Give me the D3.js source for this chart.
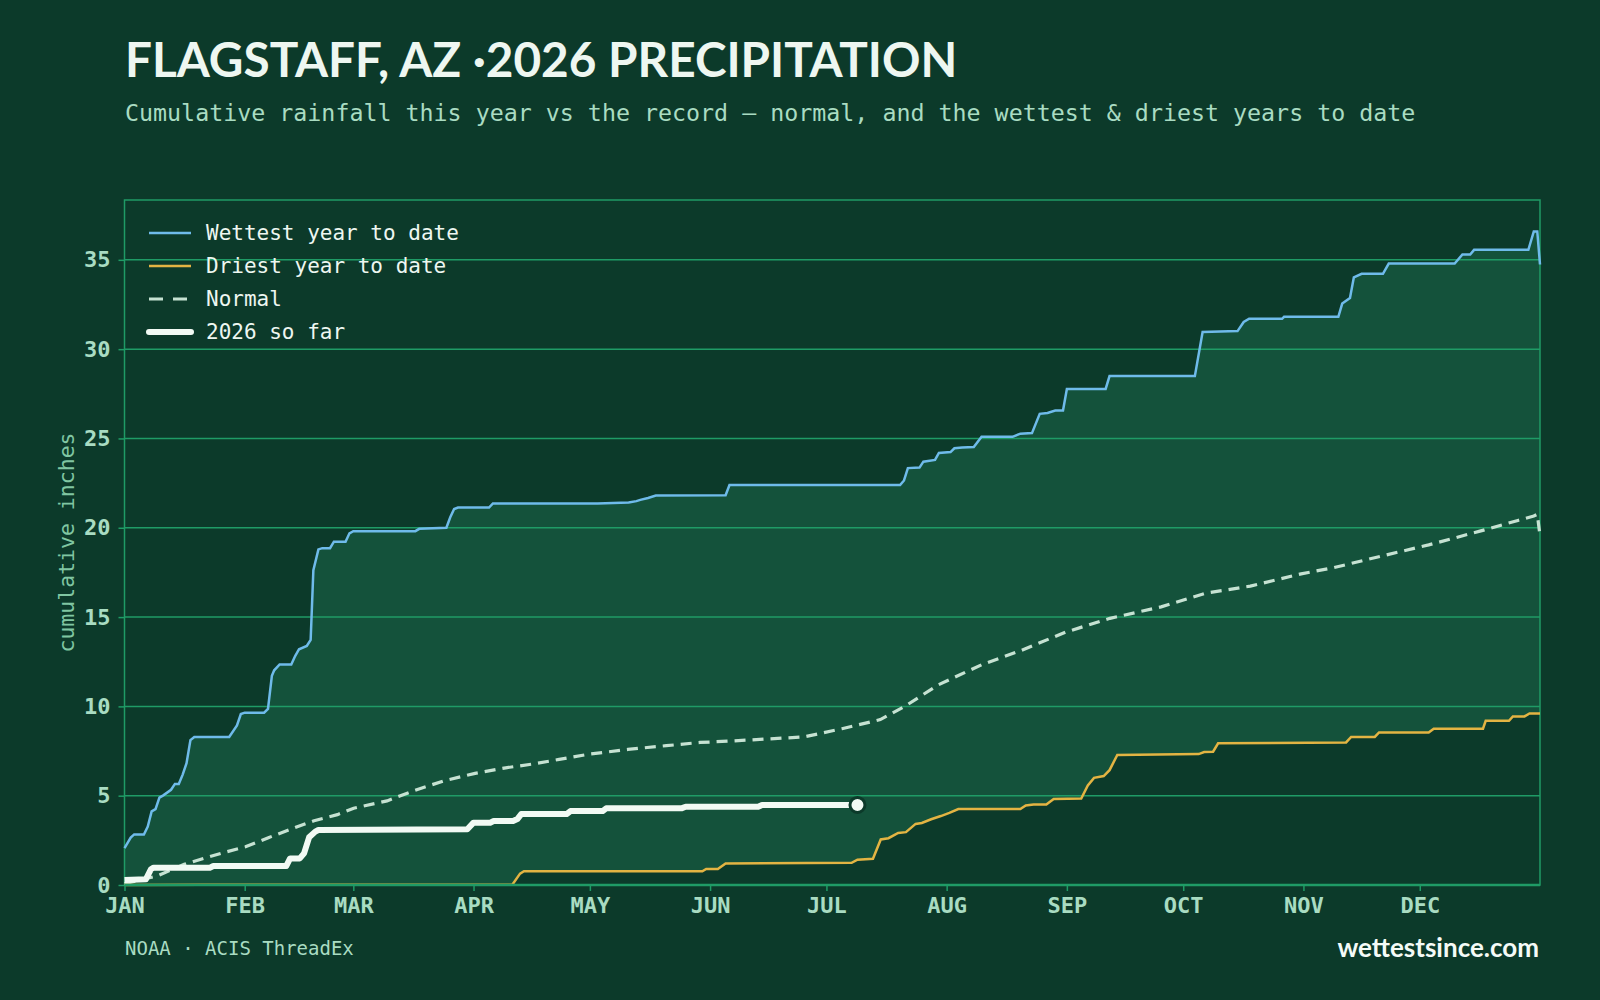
<!DOCTYPE html>
<html>
<head>
<meta charset="utf-8">
<script src="https://cdn.jsdelivr.net/npm/d3@7"></script>
<style>
  body { margin: 0; background: #0c3a2a; }
  svg { display: block; }
</style>
</head>
<body>
<div id="chart"></div>
<script>
// Series are [day of year, cumulative inches]
var wettest = [[0,2.06],[1.6,2.65],[2.5,2.83],[5,2.83],[6,3.27],[7,4.12],[8,4.25],[9,4.89],[10,5.02],[12,5.33],[13,5.66],[14,5.66],[15,6.18],[16,6.82],[17,8.11],[18,8.29],[27,8.29],[29,8.93],[30,9.57],[31,9.65],[36,9.65],[37,9.86],[38,11.71],[38.6,12.02],[40,12.35],[43,12.35],[44,12.82],[45,13.2],[47,13.38],[48,13.72],[48.7,17.63],[50,18.79],[51,18.86],[53,18.86],[54,19.22],[57,19.22],[58,19.69],[59,19.81],[75,19.81],[76,19.94],[83,20.0],[84,20.59],[85,21.05],[86,21.13],[94,21.13],[95,21.36],[122,21.36],[130,21.41],[132,21.49],[133,21.56],[135,21.67],[137,21.8],[155,21.82],[156,22.39],[200,22.39],[201,22.65],[202,23.34],[205,23.37],[206,23.7],[209,23.8],[210,24.19],[213,24.24],[214,24.45],[216,24.5],[219,24.52],[221,25.09],[229,25.09],[231,25.27],[234,25.3],[236,26.38],[238,26.43],[240,26.56],[242,26.56],[243,27.77],[253,27.77],[254,28.49],[276,28.49],[278,30.96],[287,31.01],[288.6,31.52],[290,31.7],[298.5,31.7],[299,31.81],[313,31.81],[314,32.55],[316,32.86],[317,34.02],[319,34.22],[324.5,34.22],[326,34.79],[343,34.79],[345,35.3],[347,35.3],[348,35.56],[362,35.56],[363.4,36.59],[364.3,36.59],[365,34.74]];

var driest = [[0,0],[20,0.02],[100,0.02],[102,0.64],[103,0.77],[149,0.77],[150,0.9],[153,0.9],[155,1.21],[187.5,1.24],[189,1.42],[193,1.47],[195,2.55],[197,2.62],[199.5,2.91],[201.5,2.96],[204,3.42],[205.6,3.47],[208,3.68],[210.5,3.86],[212.7,4.04],[215,4.25],[231,4.25],[232.4,4.45],[234.4,4.5],[237.7,4.5],[239.6,4.81],[246.7,4.84],[248.4,5.58],[250,6.0],[252.5,6.1],[254,6.43],[256,7.28],[277,7.33],[278.4,7.44],[280.7,7.46],[282,7.93],[315,7.98],[316.3,8.29],[322.4,8.29],[323.5,8.54],[336.3,8.54],[337.6,8.75],[350.3,8.75],[351,9.19],[357,9.19],[358,9.44],[361,9.44],[362.3,9.6],[365,9.6]];

var normal = [[0,0.08],[8.5,0.51],[15.4,1.16],[25.3,1.8],[31.2,2.14],[37.1,2.65],[44,3.22],[48.9,3.6],[54.9,3.94],[59.1,4.3],[67.7,4.71],[74.6,5.28],[82.5,5.84],[90.4,6.25],[98.3,6.56],[105.2,6.77],[112.1,7.03],[120,7.33],[129.8,7.59],[139.7,7.8],[148.4,7.98],[155.5,8.05],[175.2,8.29],[185,8.75],[194.9,9.26],[201.5,10.04],[209.7,11.19],[221.2,12.35],[231.1,13.12],[242.6,14.15],[254.1,14.93],[267.3,15.57],[278.8,16.34],[290.3,16.73],[303.4,17.42],[311.7,17.76],[324.8,18.45],[336.3,19.04],[349.5,19.81],[359.3,20.41],[363.4,20.66],[364.3,20.75],[365,19.56]];

var thisYear = [[0,0.28],[5.5,0.32],[6.8,0.88],[7.5,0.97],[22,0.97],[22.9,1.06],[41.7,1.06],[42.7,1.49],[45.2,1.49],[46.3,1.77],[47.6,2.67],[49.2,2.99],[50,3.08],[88.4,3.12],[90,3.49],[94.3,3.49],[95.2,3.58],[100.2,3.58],[101.3,3.69],[102.3,3.97],[114,3.97],[115,4.14],[123.3,4.14],[124.2,4.29],[143.6,4.29],[144.7,4.38],[163.4,4.38],[164.4,4.48],[189,4.48]];

var monthLabels = ["JAN","FEB","MAR","APR","MAY","JUN","JUL","AUG","SEP","OCT","NOV","DEC"];
var yTicks = [0, 5, 10, 15, 20, 25, 30, 35];
var legendItems = ["Wettest year to date", "Driest year to date", "Normal", "2026 so far"];

var width = 1600;
var height = 1000;
var margin = { top: 200, right: 60, bottom: 115, left: 124.5 };
var mono = "'DejaVu Sans Mono', monospace";
var sans = "Lato, 'Open Sans', sans-serif";

var start = new Date(2026, 0, 1);
var end = new Date(2027, 0, 1);
function toDate(d) { return new Date(start.getTime() + d * 864e5); }

var x = d3.scaleTime()
    .domain([start, end])
    .range([margin.left, width - margin.right]);

var y = d3.scaleLinear()
    .domain([0, 38.35])
    .range([height - margin.bottom, margin.top]);

var svg = d3.select("#chart")
    .append("svg")
    .attr("width", width)
    .attr("height", height);

svg.append("rect")
    .attr("width", width)
    .attr("height", height)
    .attr("fill", "#0c3a2a");

// Title block
svg.append("text")
    .attr("x", 125)
    .attr("y", 77)
    .attr("font-family", sans)
    .attr("font-weight", 700)
    .attr("font-size", 47.7)
    .attr("fill", "#eef7f1")
    .text("FLAGSTAFF, AZ ·2026 PRECIPITATION");

svg.append("text")
    .attr("x", 125)
    .attr("y", 121)
    .attr("font-family", mono)
    .attr("font-size", 23.3)
    .attr("fill", "#a9dcc2")
    .text("Cumulative rainfall this year vs the record — normal, and the wettest & driest years to date");

function interp(series, day) {
    for (var i = 1; i < series.length; i++) {
        if (series[i][0] >= day) {
            var a = series[i - 1], b = series[i];
            var t = (day - a[0]) / ((b[0] - a[0]) || 1);
            return a[1] + t * (b[1] - a[1]);
        }
    }
    return series[series.length - 1][1];
}

// Band between wettest and driest
var bandData = wettest.map(function (d) {
    return { day: d[0], hi: d[1], lo: interp(driest, d[0]) };
});
driest.forEach(function (d) {
    bandData.push({ day: d[0], hi: interp(wettest, d[0]), lo: d[1] });
});
bandData.sort(function (a, b) { return a.day - b.day; });

svg.append("path")
    .datum(bandData)
    .attr("fill", "#14523b")
    .attr("d", d3.area()
        .x(function (d) { return x(toDate(d.day)); })
        .y0(function (d) { return y(d.lo); })
        .y1(function (d) { return y(d.hi); }));

// Grid
svg.append("g")
    .selectAll("line")
    .data(yTicks.slice(1))
    .enter()
    .append("line")
    .attr("x1", margin.left)
    .attr("x2", width - margin.right)
    .attr("y1", function (d) { return y(d); })
    .attr("y2", function (d) { return y(d); })
    .attr("stroke", "#1f9b66")
    .attr("stroke-width", 1.5);

svg.append("rect")
    .attr("x", margin.left)
    .attr("y", margin.top)
    .attr("width", width - margin.right - margin.left)
    .attr("height", height - margin.bottom - margin.top)
    .attr("fill", "none")
    .attr("stroke", "#1f9b66")
    .attr("stroke-width", 1.5);

var line = d3.line()
    .x(function (d) { return x(toDate(d[0])); })
    .y(function (d) { return y(d[1]); });

svg.append("path")
    .datum(normal)
    .attr("fill", "none")
    .attr("stroke", "#c6e2d2")
    .attr("stroke-width", 3.2)
    .attr("stroke-dasharray", "11,7")
    .attr("d", line);

svg.append("path")
    .datum(driest)
    .attr("fill", "none")
    .attr("stroke", "#e3b443")
    .attr("stroke-width", 2.5)
    .attr("d", line);

svg.append("path")
    .datum(wettest)
    .attr("fill", "none")
    .attr("stroke", "#6fbbea")
    .attr("stroke-width", 2.5)
    .attr("d", line);

svg.append("path")
    .datum(thisYear)
    .attr("fill", "none")
    .attr("stroke", "#f2faf4")
    .attr("stroke-width", 6)
    .attr("stroke-linejoin", "round")
    .attr("d", line);

var last = thisYear[thisYear.length - 1];
svg.append("circle")
    .attr("cx", x(toDate(last[0])))
    .attr("cy", y(last[1]))
    .attr("r", 7.5)
    .attr("fill", "#f2faf4")
    .attr("stroke", "#0c3a2a")
    .attr("stroke-width", 3);

// Axes
var xAxis = svg.append("g")
    .attr("transform", "translate(0," + (height - margin.bottom) + ")")
    .call(d3.axisBottom(x)
        .tickValues(d3.timeMonths(start, end))
        .tickSize(6)
        .tickPadding(6)
        .tickFormat(function (d) { return monthLabels[d.getMonth()]; }));

var yAxis = svg.append("g")
    .attr("transform", "translate(" + margin.left + ",0)")
    .call(d3.axisLeft(y)
        .tickValues(yTicks)
        .tickSize(6)
        .tickPadding(8));

[xAxis, yAxis].forEach(function (g) {
    g.select(".domain").remove();
    g.selectAll(".tick line").attr("stroke", "#1f9b66").attr("stroke-width", 1.5);
    g.selectAll(".tick text")
        .attr("fill", "#a9dcc2")
        .attr("font-family", mono)
        .attr("font-weight", 700)
        .attr("font-size", 22);
});

svg.append("line")
    .attr("x1", margin.left)
    .attr("x2", width - margin.right)
    .attr("y1", y(0))
    .attr("y2", y(0))
    .attr("stroke", "#1f9b66")
    .attr("stroke-width", 2.5);

svg.append("text")
    .attr("transform", "translate(74," + ((margin.top + height - margin.bottom) / 2) + ") rotate(-90)")
    .attr("text-anchor", "middle")
    .attr("font-family", mono)
    .attr("font-size", 21.5)
    .attr("fill", "#80c6a2")
    .text("cumulative inches");

// Legend
var legendStyles = [
    { color: "#6fbbea", width: 2.5, dash: null },
    { color: "#e3b443", width: 2.5, dash: null },
    { color: "#c6e2d2", width: 3.2, dash: "14,10" },
    { color: "#f2faf4", width: 6, dash: null }
];

var legend = svg.append("g")
    .selectAll("g")
    .data(legendItems)
    .enter()
    .append("g")
    .attr("transform", function (d, i) { return "translate(149," + (233 + i * 33) + ")"; });

legend.append("line")
    .attr("x1", 0)
    .attr("x2", 42)
    .attr("stroke", function (d, i) { return legendStyles[i].color; })
    .attr("stroke-width", function (d, i) { return legendStyles[i].width; })
    .attr("stroke-linecap", function (d, i) { return i === 3 ? "round" : "butt"; })
    .attr("stroke-dasharray", function (d, i) { return legendStyles[i].dash; });

legend.append("text")
    .attr("x", 57)
    .attr("dy", "0.35em")
    .attr("font-family", mono)
    .attr("font-size", 21)
    .attr("fill", "#eef7f1")
    .text(function (d) { return d; });

// Footer
svg.append("text")
    .attr("x", 125)
    .attr("y", 955)
    .attr("font-family", mono)
    .attr("font-size", 19)
    .attr("fill", "#a9dcc2")
    .text("NOAA · ACIS ThreadEx");

svg.append("text")
    .attr("x", 1539)
    .attr("y", 957)
    .attr("text-anchor", "end")
    .attr("font-family", sans)
    .attr("font-weight", 700)
    .attr("font-size", 26)
    .attr("fill", "#f5fbf7")
    .text("wettestsince.com");
</script>
</body>
</html>
